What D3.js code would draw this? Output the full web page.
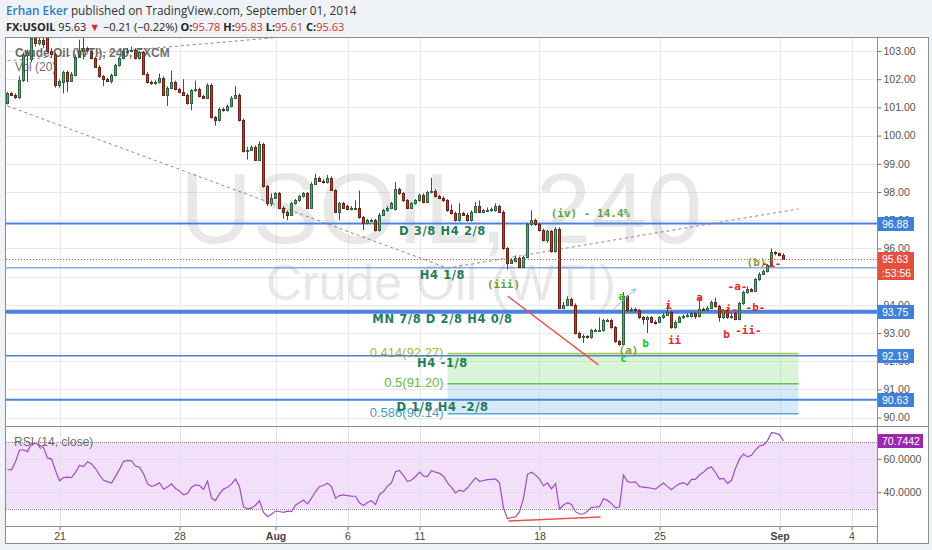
<!DOCTYPE html>
<html><head><meta charset="utf-8">
<script src="https://cdn.jsdelivr.net/npm/d3@7/dist/d3.min.js"></script>
<style>
html,body{margin:0;padding:0;background:#eff2f6;}
svg{display:block;}
</style></head><body>
<svg id="c" width="932" height="550"></svg>
<script>
// ---------------- DATA ----------------
// 4h bars: [open, high, low, close]
const ohlc = [
[101.15,101.55,101.1,101.5],[101.5,101.55,101.4,101.45],[101.45,101.5,101.3,101.38],[101.38,102.1,101.3,101.97],
[101.97,102.95,101.9,102.85],[102.85,103.05,101.9,102.95],[102.7,103.7,102.6,103.45],[103.45,103.6,103.15,103.3],
[103.3,103.6,103.2,103.4],[103.4,103.55,103.1,103.25],[103.5,103.8,102.95,103.0],[103.0,103.1,102.75,102.9],
[102.9,102.95,101.7,101.8],[101.8,102.0,101.7,101.95],[101.9,102.3,101.5,102.25],[102.25,102.3,101.55,101.95],
[101.95,102.25,101.9,102.2],[102.15,102.85,102.1,102.8],[102.8,103.4,102.75,103.0],[103.0,103.5,102.7,103.1],
[103.1,103.15,102.95,103.05],[103.0,103.05,102.7,102.75],[102.75,102.8,102.4,102.45],[102.45,102.5,102.05,102.1],
[102.1,102.15,101.75,102.0],[102.0,102.05,101.9,101.95],[101.95,102.2,101.85,102.15],[102.15,102.55,102.1,102.5],
[102.5,102.8,102.45,102.75],[102.75,103.1,102.7,103.0],[103.0,103.1,102.9,103.0],[103.0,103.15,102.95,103.05],
[103.05,103.1,102.7,102.75],[102.75,103.0,102.7,102.95],[102.95,103.0,102.15,102.2],[102.2,102.25,101.85,101.9],
[101.9,101.95,101.8,101.85],[101.85,101.95,101.8,101.9],[101.9,102.2,101.85,102.05],[102.05,102.1,101.4,101.45],
[101.45,101.75,101.05,101.7],[101.7,102.3,101.65,101.9],[101.9,101.95,101.6,101.65],[101.65,101.7,101.5,101.55],
[101.55,102.0,101.4,101.45],[101.45,101.5,101.1,101.15],[101.15,101.65,100.9,101.6],[101.6,101.95,101.55,101.65],
[101.65,101.7,101.35,101.4],[101.4,101.45,101.3,101.35],[101.35,101.85,101.3,101.8],[101.8,101.85,100.6,100.65],
[100.65,100.7,100.35,100.55],[100.55,101.0,100.5,100.95],[100.95,101.0,100.85,100.9],[100.9,101.1,100.85,101.05],
[101.05,101.4,101.0,101.35],[101.35,101.75,101.3,101.45],[101.45,101.5,100.5,100.55],[100.55,100.6,99.4,99.45],
[99.45,99.6,99.15,99.5],[99.5,99.65,99.45,99.6],[99.6,99.65,99.1,99.15],[99.15,99.8,99.1,99.7],
[99.7,99.75,98.15,98.2],[98.2,98.25,97.5,97.6],[97.6,97.95,97.5,97.8],[97.8,98.0,97.75,97.95],
[97.95,98.0,97.4,97.45],[97.45,97.5,97.05,97.3],[97.3,97.35,97.0,97.2],[97.2,97.65,97.15,97.6],
[97.6,97.75,97.55,97.7],[97.7,97.9,97.65,97.85],[97.85,98.0,97.8,97.95],[97.95,98.0,97.4,97.45],
[97.45,98.35,97.4,98.3],[98.3,98.65,98.25,98.5],[98.5,98.55,98.35,98.4],[98.4,98.45,98.3,98.35],
[98.35,98.6,98.3,98.5],[98.5,98.55,98.05,98.08],[98.08,98.1,97.25,97.3],[97.3,97.65,97.0,97.6],
[97.6,97.65,97.4,97.45],[97.5,97.55,97.35,97.4],[97.4,97.5,97.35,97.45],[97.45,97.7,97.4,97.45],
[97.45,98.05,97.05,97.1],[97.1,97.15,96.65,96.9],[96.9,97.05,96.85,97.0],[97.0,97.05,96.95,97.0],
[97.0,97.05,96.6,96.65],[96.65,97.25,96.6,97.2],[97.2,97.4,97.15,97.35],[97.35,97.5,97.3,97.45],
[97.45,97.65,97.4,97.6],[97.4,98.35,97.35,98.1],[98.1,98.15,97.9,97.95],[97.95,98.0,97.65,97.7],
[97.7,97.75,97.4,97.45],[97.45,97.65,97.4,97.6],[97.6,97.75,97.55,97.7],[97.7,97.95,97.65,97.9],
[97.9,97.95,97.6,97.65],[97.65,98.05,97.6,98.0],[98.0,98.5,97.95,98.05],[98.05,98.1,97.8,97.85],
[97.85,97.9,97.75,97.8],[97.8,97.85,97.65,97.7],[97.7,97.75,97.3,97.35],[97.35,97.55,97.2,97.25],
[97.25,97.3,96.95,97.0],[97.0,97.6,96.95,97.25],[97.25,97.3,97.15,97.2],[97.2,97.25,96.95,97.0],
[97.0,97.35,96.95,97.3],[97.3,97.65,97.25,97.5],[97.5,97.7,97.25,97.3],[97.3,97.4,97.25,97.35],
[97.35,97.45,97.3,97.35],[97.35,97.45,97.3,97.4],[97.35,97.6,97.3,97.5],[97.5,97.55,97.25,97.3],
[97.3,97.35,95.95,96.0],[96.0,96.05,95.25,95.5],[95.5,95.65,95.45,95.6],[95.55,95.75,95.5,95.65],
[95.65,95.7,95.3,95.35],[95.35,95.75,95.3,95.7],[95.7,96.9,95.65,96.85],[96.85,97.35,96.8,97.0],
[97.0,97.05,96.8,96.85],[96.85,96.9,96.6,96.65],[96.65,96.7,96.25,96.3],[96.3,96.65,96.2,96.6],
[96.6,96.65,95.85,95.9],[95.9,96.75,95.85,96.7],[96.7,96.75,93.85,93.9],[93.9,94.1,93.85,94.0],
[94.0,94.3,93.95,94.2],[94.2,94.25,93.95,94.0],[94.0,94.05,92.95,93.0],[93.0,93.05,92.8,92.85],
[92.85,92.95,92.65,92.88],[92.88,92.92,92.8,92.85],[92.85,93.15,92.8,93.1],[93.1,93.15,93.05,93.1],
[93.1,93.55,93.05,93.12],[93.12,93.5,93.05,93.45],[93.45,93.5,93.4,93.45],[93.45,93.5,93.15,93.2],
[93.2,93.25,92.65,92.7],[92.7,92.75,92.55,92.62],[92.62,94.45,92.55,94.3],[94.3,94.35,93.75,93.82],
[93.82,93.9,93.75,93.85],[93.85,93.9,93.75,93.82],[93.82,93.85,93.5,93.55],[93.55,93.6,93.3,93.5],
[93.5,93.6,93.0,93.55],[93.55,93.6,93.35,93.4],[93.4,93.45,93.3,93.38],[93.38,93.6,93.35,93.55],
[93.55,93.7,93.5,93.65],[93.65,94.0,93.6,93.75],[93.75,93.8,93.15,93.2],[93.2,93.45,93.15,93.4],
[93.4,93.6,93.35,93.55],[93.55,93.65,93.5,93.6],[93.6,93.7,93.55,93.65],[93.6,93.75,93.55,93.7],
[93.7,93.75,93.5,93.6],[93.6,94.25,93.55,93.85],[93.85,93.9,93.78,93.82],[93.82,93.95,93.78,93.9],
[93.9,94.15,93.85,94.1],[94.1,94.25,93.9,93.95],[93.95,94.0,93.4,93.55],[93.55,93.85,93.5,93.8],
[93.8,93.85,93.5,93.55],[93.55,93.7,93.5,93.6],[93.7,93.75,93.45,93.5],[93.5,94.1,93.45,94.05],
[94.05,94.5,94.0,94.45],[94.45,94.65,94.4,94.55],[94.55,94.6,94.45,94.5],[94.5,94.95,94.45,94.9],
[94.9,95.15,94.85,95.1],[95.1,95.25,95.05,95.2],[95.2,95.45,95.15,95.42],[95.42,96.0,95.38,95.87],
[95.87,95.9,95.75,95.82],[95.82,95.85,95.72,95.78],[95.78,95.83,95.61,95.63]
];
// RSI(14, close), one value per bar
const rsi = [
53.6,53.4,58.2,65.3,65.5,64.4,69.1,69.4,68.1,66.8,60.6,59.9,53.0,46.8,48.8,49.0,48.7,51.9,56.1,55.4,
58.3,57.0,54.2,50.3,47.1,46.3,45.4,49.5,53.7,58.4,59.1,58.8,55.7,55.0,51.0,45.1,43.4,44.2,45.6,41.7,
43.1,45.0,42.2,40.7,38.4,39.1,43.0,44.3,44.0,41.6,46.7,36.4,34.9,39.1,41.8,42.9,44.8,47.8,43.2,31.1,
29.9,30.3,32.1,34.8,27.7,25.3,26.7,28.6,28.3,27.8,28.5,28.2,32.1,33.8,35.2,32.9,36.4,40.2,43.4,44.0,
45.3,43.3,36.3,37.9,38.3,37.9,37.6,37.5,33.6,31.9,33.7,34.8,32.6,38.6,40.3,43.6,45.6,52.3,53.0,50.0,
46.4,47.3,49.4,52.1,49.7,49.3,53.0,52.0,51.3,49.6,45.6,42.8,39.5,41.2,40.4,42.6,45.6,48.6,46.5,47.0,
47.5,47.7,47.9,45.6,30.4,24.0,24.7,25.1,28.1,36.4,50.7,52.0,50.4,47.8,43.7,45.6,41.9,45.2,29.8,32.2,
33.6,32.5,28.2,26.8,26.8,28.4,30.8,30.9,31.2,36.0,35.0,33.2,30.5,31.0,50.3,46.3,45.8,46.2,43.3,43.0,
42.7,42.3,41.8,43.7,45.5,43.3,41.5,43.6,45.0,45.7,44.3,47.7,47.7,50.4,51.9,54.3,55.1,51.8,47.8,48.3,
45.3,47.1,54.3,60.0,62.9,61.2,62.2,65.4,67.8,68.4,71.0,75.8,75.5,74.5,70.74
];
const dayTicks  = [13, 43, 67, 85, 103, 133, 163, 193, 211];
const dayLabels = ["21", "28", "Aug", "6", "11", "18", "25", "Sep", "4"];
const priceTicks = [90, 91, 92, 93, 94, 95, 96, 97, 98, 99, 100, 101, 102, 103];
const rsiTicks = [40, 60];
const murreyLevels = [96.88, 95.31, 93.75, 92.19, 90.63];
const murreyLabels = ["D 3/8 H4 2/8", "H4 1/8", "MN 7/8 D 2/8 H4 0/8", "H4 -1/8", "D 1/8 H4 -2/8"];
const murreyBoxed = [96.88, 93.75, 92.19, 90.63];
const fibLevels = [92.27, 91.20, 90.14];
const fibLabels = ["0.414(92.27)", "0.5(91.20)", "0.586(90.14)"];
const fibRange = [110, 197.75];        // bar span of the fib box
const lastPrice = 95.63, lastRsi = 70.7442;
// trend lines: [bar, price]
const trendDashed = [[[0,102.65],[69,103.5],[120,104.4]], [[0,101.05],[110,95.30]], [[110,95.30],[197.75,97.40]]];
const redLine = [[125,94.31],[147.75,91.87]];
const blueArrow = [[151.25,93.82],[157,94.56]];
const rsiRedLine = [[125.25,22.6],[148.25,25.0]];
// wave labels: [bar, price, text, kind]
const waveLabels = [
  [145.75, 97.26, "(iv) - 14.4%", "olive"], [124, 94.74, "(iii)", "olive"],
  [153.5, 94.31, "a", "green"], [155.25, 92.40, "(a)", "olive2"], [154, 92.11, "c", "green"], [159.5, 92.65, "b", "green"],
  [165.25, 93.99, "i", "red"], [166.75, 92.75, "ii", "red"], [173, 94.28, "a", "red"], [179.75, 92.96, "b", "red"],
  [180.25, 93.85, "-i-", "red"], [185.25, 93.11, "-ii-", "red"], [182.5, 94.67, "-a-", "red"], [187, 93.92, "-b-", "red"],
  [187.25, 95.52, "(b)", "olive2"], [191, 95.48, "-i-", "red"]
];

// ---------------- LAYOUT ----------------
const L = 5, R = 877, FR = 928, T = 37, MB = 426, RT = 427, RB = 526, FB = 543;
const svg = d3.select('#c');
const x = d3.scaleLinear().domain([0, 211]).range([7.5, 851.5]);
const y = d3.scaleLinear().domain([90, 103]).range([417.6, 51]);
const ry = d3.scaleLinear().domain([30, 70]).range([508.7, 442.3]);
const AX = "'Liberation Sans', Arial, sans-serif";

svg.append('rect').attr('width', 932).attr('height', 550).attr('fill', '#eff2f6');
svg.append('rect').attr('x', L + 0.5).attr('y', T + 0.5).attr('width', FR - L).attr('height', FB - T)
  .attr('fill', '#fff').attr('stroke', '#8c8c8c');

const defs = svg.append('defs');
defs.append('clipPath').attr('id', 'cm').append('rect').attr('x', L + 1).attr('y', T + 1).attr('width', R - L - 1).attr('height', MB - T - 1);
defs.append('clipPath').attr('id', 'cr').append('rect').attr('x', L + 1).attr('y', RT).attr('width', R - L - 1).attr('height', RB - RT);

// grid
const grid = svg.append('g').attr('stroke', '#e9e9e9').attr('stroke-width', 1);
dayTicks.forEach(d => grid.append('line').attr('x1', Math.round(x(d)) + 0.5).attr('x2', Math.round(x(d)) + 0.5).attr('y1', T + 1).attr('y2', RB));
priceTicks.forEach(p => grid.append('line').attr('x1', L + 1).attr('x2', R).attr('y1', Math.round(y(p)) + 0.5).attr('y2', Math.round(y(p)) + 0.5));

const main = svg.append('g').attr('clip-path', 'url(#cm)');
// watermark
main.append('text').attr('x', (L + R) / 2).attr('y', 243).attr('text-anchor', 'middle')
  .attr('font-family', AX).attr('font-size', 100).attr('fill', 'rgba(110,110,110,0.16)').text('USOIL, 240');
main.append('text').attr('x', (L + R) / 2).attr('y', 300).attr('text-anchor', 'middle')
  .attr('font-family', AX).attr('font-size', 50).attr('fill', 'rgba(110,110,110,0.16)').text('Crude Oil (WTI)');

// fib zones
const fx0 = x(fibRange[0]), fx1 = x(fibRange[1]);
main.append('rect').attr('x', fx0).attr('width', fx1 - fx0).attr('y', y(fibLevels[0])).attr('height', y(fibLevels[1]) - y(fibLevels[0])).attr('fill', 'rgba(120,215,110,0.28)');
main.append('rect').attr('x', fx0).attr('width', fx1 - fx0).attr('y', y(fibLevels[1])).attr('height', y(fibLevels[2]) - y(fibLevels[1])).attr('fill', 'rgba(110,180,225,0.28)');
const fibColors = ['#a6c83e', '#6cc04a', '#58a8d8'];
const fibTextColors = ['#a4b83c', '#66b944', '#4a9cc8'];
fibLevels.forEach((v, k) => {
  main.append('line').attr('x1', fx0).attr('x2', fx1).attr('y1', y(v)).attr('y2', y(v)).attr('stroke', fibColors[k]).attr('stroke-width', 1.5);
  main.append('text').attr('x', fx0 - 4).attr('y', y(v) + 3).attr('text-anchor', 'end').attr('font-family', AX)
    .attr('font-size', 13).attr('fill', fibTextColors[k]).text(fibLabels[k]);
});

// murrey lines
const murreyWidths = [2, 1, 4, 1.5, 2];
murreyLevels.forEach((v, k) => {
  main.append('line').attr('x1', L + 1).attr('x2', R).attr('y1', y(v)).attr('y2', y(v))
    .attr('stroke', '#4a82dc').attr('stroke-width', murreyWidths[k]);
});

// dashed trend lines
const lineGen = d3.line().x(d => x(d[0])).y(d => y(d[1]));
trendDashed.forEach(pts => main.append('path').attr('d', lineGen(pts)).attr('fill', 'none')
  .attr('stroke', '#8a8a8a').attr('stroke-width', 1).attr('stroke-dasharray', '3,3'));

// candles
const cg = main.append('g');
ohlc.forEach((d, i) => {
  const [o, h, l, c] = d;
  const up = c >= o;
  const xi = x(i);
  const stroke = up ? '#2f6443' : '#6e2217';
  const fill = up ? '#5aa374' : '#b23f30';
  cg.append('line').attr('x1', xi).attr('x2', xi).attr('y1', y(h)).attr('y2', y(l)).attr('stroke', '#4a4a4a').attr('stroke-width', 1);
  const top = Math.round(y(Math.max(o, c))), bot = Math.round(y(Math.min(o, c)));
  const hh = Math.max(1, bot - top);
  cg.append('rect').attr('x', xi - 1).attr('y', top + 0.5).attr('width', 2).attr('height', hh)
    .attr('fill', fill).attr('stroke', stroke).attr('stroke-width', 1);
});

// red line and blue arrow
main.append('path').attr('d', lineGen(redLine)).attr('stroke', '#e8544a').attr('stroke-width', 1.3).attr('fill', 'none');
main.append('path').attr('d', lineGen(blueArrow)).attr('stroke', '#8cc4ee').attr('stroke-width', 1).attr('fill', 'none');
{
  const [a, b] = blueArrow.map(p => [x(p[0]), y(p[1])]);
  const ang = Math.atan2(b[1] - a[1], b[0] - a[0]);
  const s = 5;
  const p1 = [b[0] - s * Math.cos(ang - 0.5), b[1] - s * Math.sin(ang - 0.5)];
  const p2 = [b[0] - s * Math.cos(ang + 0.5), b[1] - s * Math.sin(ang + 0.5)];
  main.append('path').attr('d', `M${p1}L${b}L${p2}`).attr('stroke', '#8cc4ee').attr('fill', 'none');
}

// current price dotted line
main.append('line').attr('x1', L + 1).attr('x2', R).attr('y1', Math.round(y(lastPrice)) + 0.5).attr('y2', Math.round(y(lastPrice)) + 0.5)
  .attr('stroke', '#e0493b').attr('stroke-width', 1).attr('stroke-dasharray', '1,2');

// murrey labels
const mx = x(108.75);
murreyLevels.forEach((v, k) => {
  main.append('text').attr('x', mx).attr('y', y(v) + 11).attr('text-anchor', 'middle')
    .attr('font-family', "'DejaVu Sans', sans-serif").attr('font-weight', 'bold').attr('font-size', 11.5)
    .attr('letter-spacing', 0.6).attr('fill', '#1f7d5c').text(murreyLabels[k]);
});

// wave labels
const waveColors = { olive: '#62a03c', olive2: '#869a3a', green: '#22c322', red: '#e8261c' };
waveLabels.forEach(([b, p, t, k]) => {
  main.append('text').attr('x', x(b)).attr('y', y(p)).attr('dy', '0.35em').attr('text-anchor', 'middle')
    .attr('font-family', "'DejaVu Sans Mono', monospace").attr('font-weight', 'bold').attr('font-size', 11)
    .attr('fill', waveColors[k]).text(t);
});

// legend
main.append('text').attr('x', 15).attr('y', 57).attr('font-family', AX).attr('font-weight', 'bold').attr('font-size', 12)
  .attr('fill', 'rgba(80,80,80,0.85)').text('Crude Oil (WTI), 240, FXCM');
main.append('text').attr('x', 15).attr('y', 71).attr('font-family', AX).attr('font-size', 12)
  .attr('fill', 'rgba(80,80,80,0.85)').text('Vol (20)');

// separator between panes
svg.append('line').attr('x1', L).attr('x2', FR).attr('y1', MB + 0.5).attr('y2', MB + 0.5).attr('stroke', '#8c8c8c');

// ---------------- RSI pane ----------------
const rp = svg.append('g').attr('clip-path', 'url(#cr)');
rp.append('rect').attr('x', L + 1).attr('width', R - L - 1).attr('y', ry(70)).attr('height', ry(30) - ry(70)).attr('fill', '#f2e0fb');
dayTicks.forEach(d => rp.append('line').attr('x1', Math.round(x(d)) + 0.5).attr('x2', Math.round(x(d)) + 0.5).attr('y1', RT).attr('y2', RB).attr('stroke', '#e6dcea'));
rsiTicks.forEach(v => rp.append('line').attr('x1', L + 1).attr('x2', R).attr('y1', Math.round(ry(v)) + 0.5).attr('y2', Math.round(ry(v)) + 0.5).attr('stroke', '#e6dcea'));
[70, 30].forEach(v => rp.append('line').attr('x1', L + 1).attr('x2', R).attr('y1', Math.round(ry(v)) + 0.5).attr('y2', Math.round(ry(v)) + 0.5)
  .attr('stroke', '#8a8a8a').attr('stroke-dasharray', '1,1'));
rp.append('path').datum(rsi).attr('d', d3.line().x((d, i) => x(i)).y(d => ry(d))).attr('fill', 'none')
  .attr('stroke', '#a04cc9').attr('stroke-width', 1.2);
rp.append('path').attr('d', d3.line().x(d => x(d[0])).y(d => ry(d[1]))(rsiRedLine)).attr('stroke', '#e8544a').attr('stroke-width', 1.3).attr('fill', 'none');
rp.append('text').attr('x', 14).attr('y', 446).attr('font-family', AX).attr('font-size', 12)
  .attr('fill', 'rgba(80,80,80,0.85)').text('RSI (14, close)');

// ---------------- AXES ----------------
svg.append('line').attr('x1', R + 0.5).attr('x2', R + 0.5).attr('y1', T).attr('y2', FB).attr('stroke', '#8c8c8c');
svg.append('line').attr('x1', L).attr('x2', R).attr('y1', RB + 0.5).attr('y2', RB + 0.5).attr('stroke', '#8c8c8c');

const yAxis = d3.axisRight(y).tickValues(priceTicks).tickFormat(d3.format('.2f')).tickSize(4).tickPadding(2);
const ya = svg.append('g').attr('transform', `translate(${R + 0.5},0)`).call(yAxis);
ya.select('.domain').remove();
ya.selectAll('line').attr('stroke', '#777');
ya.selectAll('text').attr('font-family', AX).attr('font-size', 10.5).attr('fill', '#555');

const rAxis = d3.axisRight(ry).tickValues(rsiTicks).tickFormat(d3.format('.4f')).tickSize(4).tickPadding(2);
const ra = svg.append('g').attr('transform', `translate(${R + 0.5},0)`).call(rAxis);
ra.select('.domain').remove();
ra.selectAll('line').attr('stroke', '#777');
ra.selectAll('text').attr('font-family', AX).attr('font-size', 10.5).attr('fill', '#555');

function box(yc, txt, color, w) {
  svg.append('rect').attr('x', R + 1).attr('y', Math.round(yc) - 7).attr('width', w).attr('height', 14).attr('fill', color);
  svg.append('text').attr('x', R + 5).attr('y', Math.round(yc) + 4).attr('font-family', AX).attr('font-size', 10.5)
    .attr('fill', '#fff').text(txt);
}
murreyBoxed.forEach(v => box(y(v), d3.format('.2f')(v), '#3f80db', 36));
box(y(lastPrice), d3.format('.2f')(lastPrice), '#e4503e', 36);
box(y(lastPrice) + 14, ':53:56', '#e4503e', 36);
box(ry(lastRsi), d3.format('.4f')(lastRsi), '#9b27af', 45);

const xAxis = d3.axisBottom(x).tickValues(dayTicks).tickFormat((d, i) => dayLabels[i]).tickSize(4).tickPadding(2);
const xa = svg.append('g').attr('transform', `translate(0,${RB + 0.5})`).call(xAxis);
xa.select('.domain').remove();
xa.selectAll('line').attr('stroke', '#777');
xa.selectAll('text').attr('font-family', AX).attr('font-size', 10.5).attr('fill', '#444')
  .attr('font-weight', (d, i) => (dayLabels[i] === 'Aug' || dayLabels[i] === 'Sep') ? 'bold' : 'normal');

// ---------------- HEADER ----------------
const HF = "'Open Sans', 'Noto Sans', sans-serif";
const h1 = svg.append('text').attr('x', 6).attr('y', 15).attr('font-family', HF).attr('font-size', 11.8);
h1.append('tspan').attr('fill', '#2b7cc6').attr('font-weight', 600).text('Erhan Eker');
h1.append('tspan').attr('fill', '#333').text(' published on TradingView.com, September 01, 2014');
const h2 = svg.append('text').attr('x', 6).attr('y', 31).attr('font-family', HF).attr('font-size', 11).attr('fill', '#222');
const parts = [
  ['FX:USOIL', 'bold', '#222'], [' 95.63 ', 'normal', '#222'], ['▼', 'normal', '#d6302a'], [' −0.21 (−0.22%) ', 'normal', '#222'],
  ['O:', 'bold', '#222'], ['95.78', 'normal', '#c0392b'], [' H:', 'bold', '#222'], ['95.83', 'normal', '#c0392b'],
  [' L:', 'bold', '#222'], ['95.61', 'normal', '#c0392b'], [' C:', 'bold', '#222'], ['95.63', 'normal', '#c0392b']
];
parts.forEach(([t, w, c]) => h2.append('tspan').attr('font-weight', w).attr('fill', c).text(t));
</script>
</body></html>
